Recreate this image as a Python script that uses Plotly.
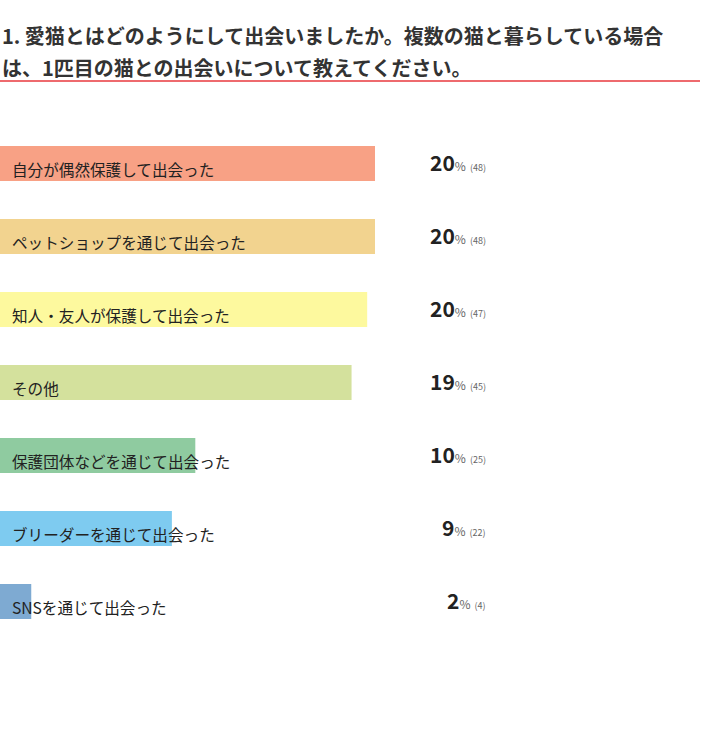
import plotly.graph_objects as go

categories = [
    "自分が偶然保護して出会った",
    "ペットショップを通じて出会った",
    "知人・友人が保護して出会った",
    "その他",
    "保護団体などを通じて出会った",
    "ブリーダーを通じて出会った",
    "SNSを通じて出会った",
]
counts = [48, 48, 47, 45, 25, 22, 4]
percents = [20, 20, 20, 19, 10, 9, 2]
colors = ["#F8A185", "#F2D38F", "#FDF99E", "#D4E19D", "#8FCBA0", "#7ECBF0", "#7EAAD2"]

title_lines = [
    "1. 愛猫とはどのようにして出会いましたか。複数の猫と暮らしている場合",
    "は、1匹目の猫との出会いについて教えてください。",
]

W, H = 710, 732
top, bottom = 127, 638  # plot area in pixels


def py(p):
    # pixel row -> paper y
    return (bottom - p) / (bottom - top)


fig = go.Figure()
fig.add_trace(go.Bar(
    x=counts, y=categories, orientation="h",
    marker=dict(color=colors, line=dict(width=0)),
    hoverinfo="skip",
))

annotations = []
for cat, n, pct in zip(categories, counts, percents):
    annotations.append(dict(
        x=10 / W, xref="paper", y=cat, yref="y", yshift=-5,
        text=cat, showarrow=False, xanchor="left", yanchor="middle",
        font=dict(size=15.6, color="#222"),
    ))
    annotations.append(dict(
        x=488 / W, xref="paper", y=cat, yref="y", yshift=2,
        text=("<b>%d</b><span style='font-size:12px;color:#666'>%%</span>"
              "<span style='font-size:9px;color:#666'>  (%d)</span>" % (pct, n)),
        showarrow=False, xanchor="right", yanchor="middle",
        font=dict(size=21, color="#222"),
    ))

for line, p in zip(title_lines, [36, 67]):
    annotations.append(dict(
        x=0, xref="paper", y=py(p), yref="paper",
        text="<b>%s</b>" % line, showarrow=False, xanchor="left", yanchor="middle",
        font=dict(size=20, color="#333"),
    ))

fig.update_layout(
    width=W, height=H,
    margin=dict(l=0, r=0, t=top, b=H - bottom),
    paper_bgcolor="white", plot_bgcolor="white",
    font=dict(family="Noto Sans CJK JP"),
    bargap=0.52,
    showlegend=False,
    xaxis=dict(range=[0, 48 * W / 375], visible=False, fixedrange=True),
    yaxis=dict(autorange="reversed", visible=False, fixedrange=True),
    annotations=annotations,
    shapes=[dict(type="line", xref="paper", yref="paper",
                 x0=0, x1=700 / W, y0=py(81), y1=py(81),
                 line=dict(color="#EE6A6E", width=2))],
)

fig.write_html("out.html", config={"displayModeBar": False},
               post_script="document.body.style.margin='0';")
